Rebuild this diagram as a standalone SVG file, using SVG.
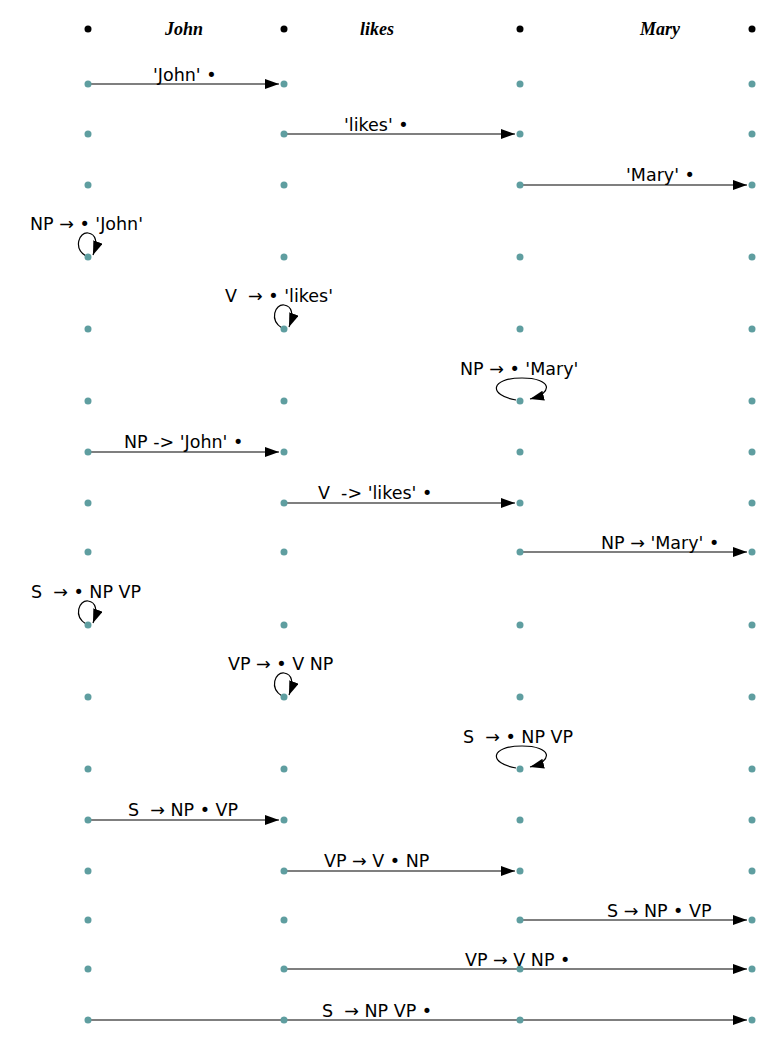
<svg xmlns="http://www.w3.org/2000/svg" width="763" height="1044" viewBox="0 0 763 1044">
<style>
.hd{font-family:"Liberation Serif",serif;font-weight:bold;font-style:italic;font-size:18px;text-anchor:middle}
.lb{font-family:"DejaVu Sans",sans-serif;font-size:17.5px;white-space:pre}
.e{stroke:#000;stroke-width:1.2;fill:none;marker-end:url(#arr)}
.d{fill:#5f9ea0}
.k{fill:#000}
</style>
<defs>
<marker id="arr" markerUnits="userSpaceOnUse" markerWidth="15" markerHeight="11" refX="14" refY="5" orient="auto"><path d="M0,0 L14,5 L0,10 z" fill="#000"/></marker>
<g id="col"><circle cx="0" cy="84" r="3.5"/><circle cx="0" cy="134" r="3.5"/><circle cx="0" cy="185" r="3.5"/><circle cx="0" cy="257" r="3.5"/><circle cx="0" cy="329" r="3.5"/><circle cx="0" cy="401" r="3.5"/><circle cx="0" cy="452" r="3.5"/><circle cx="0" cy="503" r="3.5"/><circle cx="0" cy="552" r="3.5"/><circle cx="0" cy="625" r="3.5"/><circle cx="0" cy="697" r="3.5"/><circle cx="0" cy="769" r="3.5"/><circle cx="0" cy="820" r="3.5"/><circle cx="0" cy="871" r="3.5"/><circle cx="0" cy="920" r="3.5"/><circle cx="0" cy="969" r="3.5"/><circle cx="0" cy="1020" r="3.5"/></g>
<path id="sl" d="M-2,-1 C-15,-9 -9,-25 0,-24 C8,-23 10,-15 5,-2"/>
<path id="wl" d="M-4,-1 C-32,-6 -30,-23 2,-23 C32,-23 34,-8 10,-2"/>
</defs>
<rect width="763" height="1044" fill="#fff"/>
<g id="header">
<circle class="k" cx="88" cy="29" r="3.5"/><circle class="k" cx="284" cy="29" r="3.5"/><circle class="k" cx="520" cy="29" r="3.5"/><circle class="k" cx="752" cy="29" r="3.5"/>
<text class="hd" x="184" y="35">John</text>
<text class="hd" x="377" y="35">likes</text>
<text class="hd" x="660" y="35">Mary</text>
</g>
<g id="connectors">
<line class="e" x1="91" y1="84" x2="279" y2="84"/>
<line class="e" x1="287" y1="134" x2="515" y2="134"/>
<line class="e" x1="523" y1="185" x2="747" y2="185"/>
<use class="e" href="#sl" x="88" y="257"/>
<use class="e" href="#sl" x="284" y="329"/>
<use class="e" href="#wl" x="520" y="401"/>
<line class="e" x1="91" y1="452" x2="279" y2="452"/>
<line class="e" x1="287" y1="503" x2="515" y2="503"/>
<line class="e" x1="523" y1="552" x2="747" y2="552"/>
<use class="e" href="#sl" x="88" y="625"/>
<use class="e" href="#sl" x="284" y="697"/>
<use class="e" href="#wl" x="520" y="769"/>
<line class="e" x1="91" y1="820" x2="279" y2="820"/>
<line class="e" x1="287" y1="871" x2="515" y2="871"/>
<line class="e" x1="523" y1="920" x2="747" y2="920"/>
<line class="e" x1="287" y1="969" x2="747" y2="969"/>
<line class="e" x1="91" y1="1020" x2="747" y2="1020"/>
</g>
<g id="nodes" class="d">
<use id="n-col1" href="#col" x="88"/>
<use id="n-col2" href="#col" x="284"/>
<use id="n-col3" href="#col" x="520"/>
<use id="n-col4" href="#col" x="752"/>
</g>
<g id="labels">
<text class="lb" x="153" y="81">'John' •</text>
<text class="lb" x="344" y="131">'likes' •</text>
<text class="lb" x="626" y="181">'Mary' •</text>
<text class="lb" x="30" y="230">NP → • 'John'</text>
<text class="lb" x="225" y="302">V  → • 'likes'</text>
<text class="lb" x="460" y="375">NP → • 'Mary'</text>
<text class="lb" x="124" y="448">NP -&gt; 'John' •</text>
<text class="lb" x="318" y="499">V  -&gt; 'likes' •</text>
<text class="lb" x="601" y="549">NP → 'Mary' •</text>
<text class="lb" x="31" y="598">S  → • NP VP</text>
<text class="lb" x="228" y="670">VP → • V NP</text>
<text class="lb" x="463" y="743">S  → • NP VP</text>
<text class="lb" x="128" y="816">S  → NP • VP</text>
<text class="lb" x="324" y="867">VP → V • NP</text>
<text class="lb" x="607" y="917">S → NP • VP</text>
<text class="lb" x="465" y="966">VP → V NP •</text>
<text class="lb" x="322" y="1017">S  → NP VP •</text>
</g>
</svg>
